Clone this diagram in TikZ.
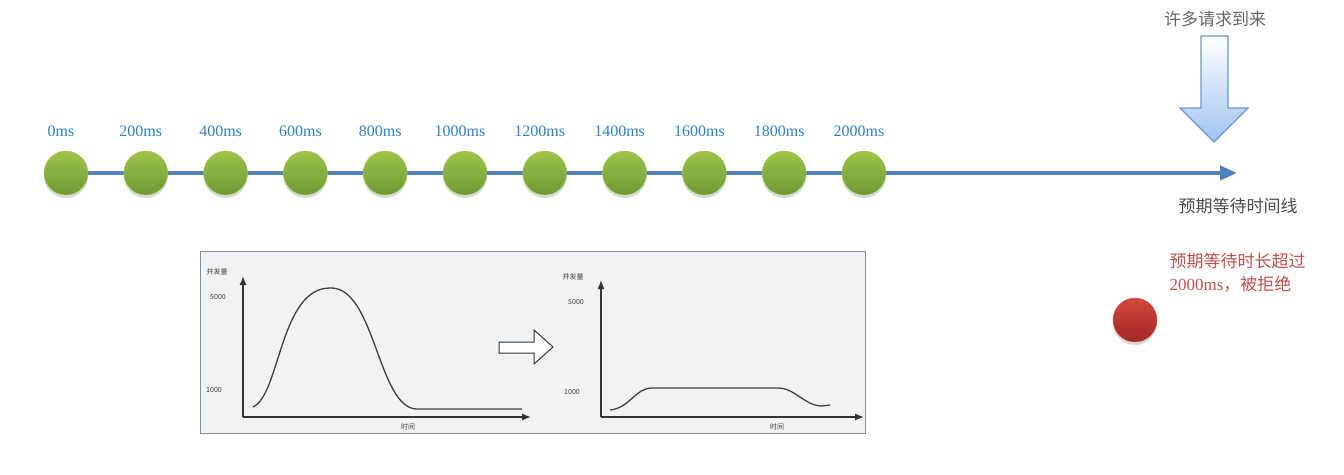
\documentclass[tikz,border=0pt]{standalone}
\usepackage{fontspec}
\setmainfont{Liberation Serif}
\newfontfamily\cjk{Noto Sans CJK SC}
\usetikzlibrary{arrows.meta,shadows}
\definecolor{lineblue}{RGB}{79,129,189}
\definecolor{labblue}{RGB}{45,130,200}
\definecolor{redtxt}{RGB}{192,80,77}
\definecolor{panel}{RGB}{239,242,247}

\begin{document}
\begin{tikzpicture}[x=1pt, y=-1pt,
	ball/.style={circle, minimum size=44pt, inner sep=0pt, drop shadow={opacity=0.3, shadow xshift=0pt, shadow yshift=-3pt}},
	greenball/.style={ball, draw={rgb,255:red,170;green,200;blue,95}, top color={rgb,255:red,158;green,196;blue,72}, bottom color={rgb,255:red,112;green,152;blue,52}},
	redball/.style={ball, draw={rgb,255:red,215;green,95;blue,85}, top color={rgb,255:red,210;green,70;blue,60}, bottom color={rgb,255:red,160;green,40;blue,35}},
	chartlab/.style={font=\cjk\fontsize{7}{8}\selectfont, text=black!75},
	curve/.style={black!75, line width=1.3pt},
	axis/.style={black!80, line width=1.3pt, -{Latex[length=9pt,width=7pt]}}]
	\useasboundingbox (0,0) rectangle (1344,474);
	% timeline
	\coordinate (tstart) at (44,173);
	\coordinate (tend) at (1237,173);
	\draw[lineblue, line width=4pt, -{Triangle[length=17pt,width=14pt]}] (tstart) -- (tend);
	\foreach \i in {0,...,10} {
		\pgfmathtruncatemacro{\ms}{200*\i}
		\node[greenball] (t\i) at (66+79.8*\i,173) {};
		\node[text=labblue, font=\fontsize{16}{18}\selectfont] (lab\i) at (66+79.8*\i-5,131) {\ms ms};
	}
	\node[text=black!60, font=\cjk\fontsize{17}{20}\selectfont] (many) at (1215,19) {许多请求到来};
	\draw[draw={rgb,255:red,110;green,150;blue,205}, line width=1.3pt, top color=white, bottom color={rgb,255:red,160;green,195;blue,240}]
		(1201,36) -- (1228,36) -- (1228,108) -- (1248,108) -- (1214,142) -- (1180,108) -- (1201,108) -- cycle;
	\node[text=black!70, font=\cjk\fontsize{17}{20}\selectfont] (tline) at (1238,206) {预期等待时间线};
	% rejected
	\node[text=redtxt, font=\cjk\fontsize{17}{23}\selectfont, align=left, anchor=north west] (rej) at (1166,250) {预期等待时长超过\\{\rmfamily 2000ms}，被拒绝};
	\node[redball] (r) at (1135,320) {};
	% charts
	\draw[black!45, fill=panel] (200,251) rectangle (865,433);
	\draw[axis] (243,417) -- (243,276);
	\draw[axis] (243,417) -- (531,417);
	\node[chartlab] (ya) at (217,272) {并发量};
	\node[chartlab] (y5a) at (218,297) {5000};
	\node[chartlab] (y1a) at (214,390) {1000};
	\node[chartlab] (xa) at (408,427) {时间};
	\draw[curve] (253,407) .. controls (280,395) and (280,288) .. (330,288) .. controls (375,286) and (378,409) .. (417,409) -- (522,409);
	\draw[black!80, line width=1pt, fill=white] (499,342) -- (534,342) -- (534,330) -- (553,347) -- (534,364) -- (534,353) -- (499,353) -- cycle;
	\draw[axis] (601,417) -- (601,280);
	\draw[axis] (601,417) -- (864,417);
	\node[chartlab] (yb) at (573,277) {并发量};
	\node[chartlab] (y5b) at (576,302) {5000};
	\node[chartlab] (y1b) at (572,392) {1000};
	\node[chartlab] (xb) at (777,427) {时间};
	\draw[curve] (610,410) .. controls (630,408) and (635,388) .. (652,388) -- (778,388) .. controls (795,388) and (805,406) .. (822,406) -- (830,405);
\end{tikzpicture}
\end{document}
